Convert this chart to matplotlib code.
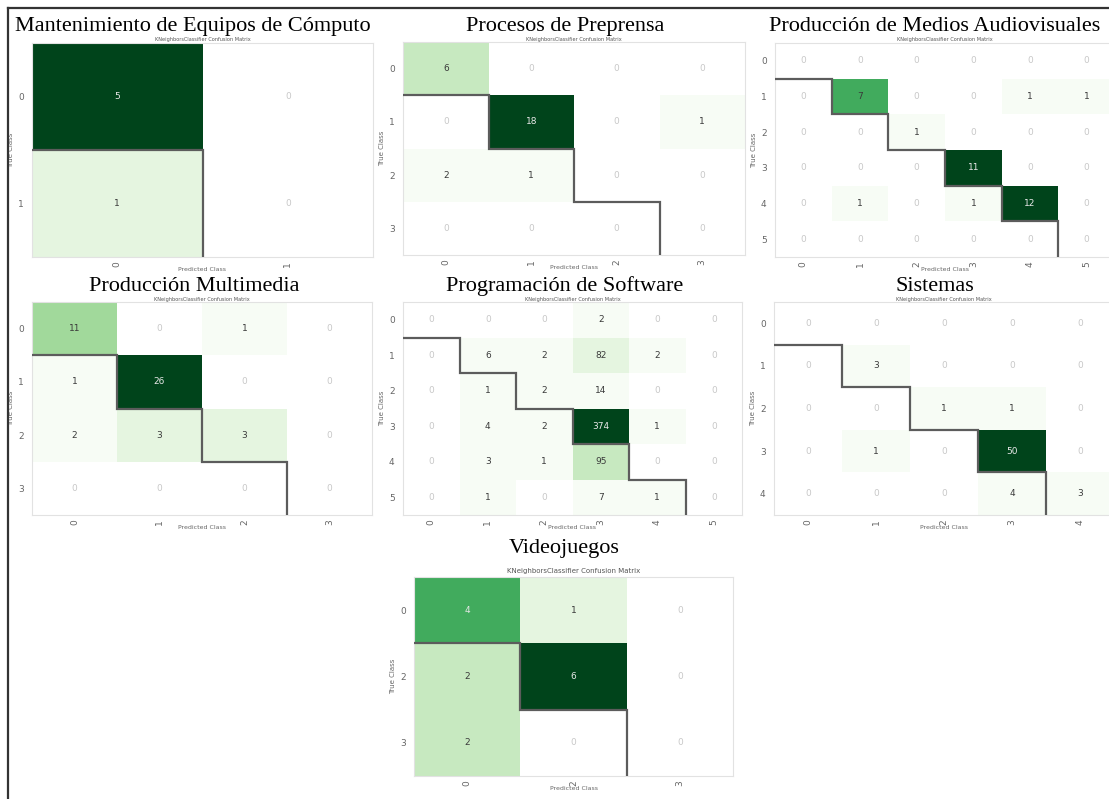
import numpy as np
import matplotlib
matplotlib.use("Agg")
import matplotlib.pyplot as plt
from matplotlib.lines import Line2D

W, H = 1109, 799

# ---- confusion-matrix data (rows = true class, columns = predicted class) ----
mant_title = "Mantenimiento de Equipos de Cómputo"
mant_classes = ["0", "1"]
mant_cm = [[5, 0],
           [1, 0]]

prep_title = "Procesos de Preprensa"
prep_classes = ["0", "1", "2", "3"]
prep_cm = [[6, 0, 0, 0],
           [0, 18, 0, 1],
           [2, 1, 0, 0],
           [0, 0, 0, 0]]

audio_title = "Producción de Medios Audiovisuales"
audio_classes = ["0", "1", "2", "3", "4", "5"]
audio_cm = [[0, 0, 0, 0, 0, 0],
            [0, 7, 0, 0, 1, 1],
            [0, 0, 1, 0, 0, 0],
            [0, 0, 0, 11, 0, 0],
            [0, 1, 0, 1, 12, 0],
            [0, 0, 0, 0, 0, 0]]

multi_title = "Producción Multimedia"
multi_classes = ["0", "1", "2", "3"]
multi_cm = [[11, 0, 1, 0],
            [1, 26, 0, 0],
            [2, 3, 3, 0],
            [0, 0, 0, 0]]

soft_title = "Programación de Software"
soft_classes = ["0", "1", "2", "3", "4", "5"]
soft_cm = [[0, 0, 0, 2, 0, 0],
           [0, 6, 2, 82, 2, 0],
           [0, 1, 2, 14, 0, 0],
           [0, 4, 2, 374, 1, 0],
           [0, 3, 1, 95, 0, 0],
           [0, 1, 0, 7, 1, 0]]

sis_title = "Sistemas"
sis_classes = ["0", "1", "2", "3", "4"]
sis_cm = [[0, 0, 0, 0, 0],
          [0, 3, 0, 0, 0],
          [0, 0, 1, 1, 0],
          [0, 1, 0, 50, 0],
          [0, 0, 0, 4, 3]]

video_title = "Videojuegos"
video_classes = ["0", "2", "3"]
video_cm = [[4, 1, 0],
            [2, 6, 0],
            [2, 0, 0]]

subtitle = "KNeighborsClassifier Confusion Matrix"

# ---- styling ----
ZERO_TEXT = "#c8c8c8"
DARK_TEXT = "#3a3a3a"
LIGHT_TEXT = "#e8e8e8"
TICK_COLOR = "#666666"
SPINE_COLOR = "#e2e2e2"
STEP_COLOR = "#5c5c5c"
TITLE_FONT = ["Liberation Serif", "DejaVu Serif"]

fig = plt.figure(figsize=(W / 100, H / 100), dpi=100)
fig.patch.set_facecolor("white")


def px_axes(left, top, right, bottom):
    return fig.add_axes([left / W, 1 - bottom / H, (right - left) / W, (bottom - top) / H])


def draw_matrix(ax, cm, classes, sub_size, sub_gap):
    cm = np.asarray(cm, dtype=float)
    n = len(classes)
    vmax = cm.max()
    # nine-step green palette, zero counts left white
    cmap = plt.get_cmap("Greens", 9).copy()
    cmap.set_under("white")
    smooth = plt.get_cmap("Greens")
    edges = np.arange(n + 1)
    ax.pcolormesh(edges, edges, cm, cmap=cmap, vmin=1e-5, vmax=vmax)
    ax.set_xlim(0, n)
    ax.set_ylim(n, 0)

    for r in range(n):
        for c in range(n):
            v = cm[r, c]
            if v == 0:
                color = ZERO_TEXT
            else:
                rgb = np.array(smooth(v / vmax)[:3])
                bright = np.sqrt(np.dot([0.241, 0.691, 0.068], rgb ** 2))
                color = DARK_TEXT if bright > 0.6 else LIGHT_TEXT
            ax.text(c + 0.5, r + 0.5, f"{v:.0f}", ha="center", va="center",
                    fontsize=6.5, color=color)

    # staircase along the lower-left edges of the diagonal cells
    steps = np.arange(1, n)
    xs = np.concatenate([[0], np.repeat(steps, 2)])
    ys = np.concatenate([np.repeat(steps, 2), [n]])
    ax.plot(xs, ys, color=STEP_COLOR, lw=1.6, solid_joinstyle="miter",
            solid_capstyle="butt", zorder=3)

    ax.set_xticks(np.arange(n) + 0.5)
    ax.set_xticklabels(classes, rotation=90)
    ax.set_yticks(np.arange(n) + 0.5)
    ax.set_yticklabels(classes)
    ax.tick_params(length=0, labelsize=6.5, colors=TICK_COLOR)
    ax.tick_params(axis="y", pad=6)
    ax.tick_params(axis="x", pad=3)
    ax.set_xlabel("Predicted Class", fontsize=4.5, color=TICK_COLOR, labelpad=0)
    ax.set_ylabel("True Class", fontsize=5, color=TICK_COLOR, labelpad=3)
    for s in ax.spines.values():
        s.set_color(SPINE_COLOR)
        s.set_linewidth(0.8)
    ax.text(0.5, 1.0 + sub_gap / ax.bbox.height, subtitle, transform=ax.transAxes,
            ha="center", va="bottom", fontsize=sub_size, color="#555555")


def panel_title(text, cx, baseline):
    fig.text(cx / W, 1 - baseline / H, text, ha="center", va="baseline",
             fontsize=16, family=TITLE_FONT, color="black", zorder=10)


panels = [
    (mant_cm, mant_classes, mant_title, (32, 43, 373, 257), (193, 31), 3.6, 0.5),
    (prep_cm, prep_classes, prep_title, (403, 42, 745, 255), (565, 31), 3.6, 0.5),
    (audio_cm, audio_classes, audio_title, (775, 43, 1115, 257), (935, 31), 3.6, 0.5),
    (multi_cm, multi_classes, multi_title, (32, 302, 372, 515), (194, 291), 3.6, 0.5),
    (soft_cm, soft_classes, soft_title, (403, 302, 742, 515), (565, 291), 3.6, 0.5),
    (sis_cm, sis_classes, sis_title, (774, 302, 1114, 515), (935, 291), 3.6, 0.5),
    (video_cm, video_classes, video_title, (414, 577, 733, 776), (564, 553), 5, 3),
]

for cm, classes, title, rect, (tx, ty), sub_size, sub_gap in panels:
    ax = px_axes(*rect)
    draw_matrix(ax, cm, classes, sub_size, sub_gap)
    panel_title(title, tx, ty)

# outer frame lines (left and top)
fig.add_artist(Line2D([8 / W, 8 / W], [0, 1 - 8 / H], color="#333333", lw=1.6,
                      transform=fig.transFigure, zorder=20))
fig.add_artist(Line2D([8 / W, 1], [1 - 8 / H, 1 - 8 / H], color="#333333", lw=1.6,
                      transform=fig.transFigure, zorder=20))

fig.savefig("out.png", dpi=100, facecolor="white")
